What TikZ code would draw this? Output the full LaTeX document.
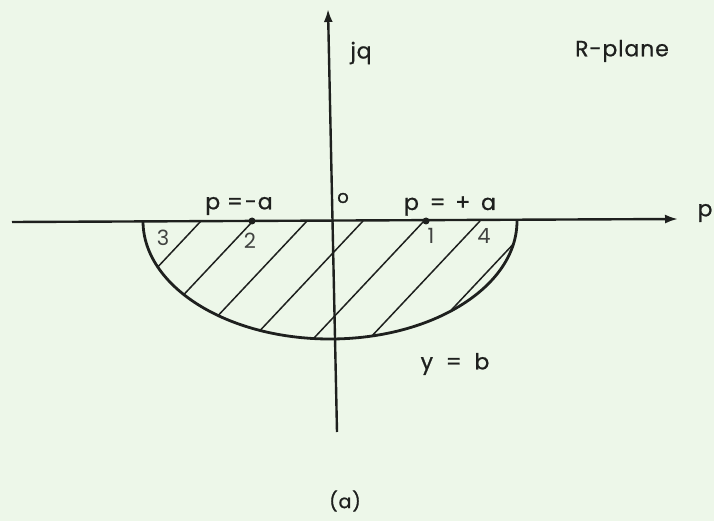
\documentclass[tikz,border=0pt]{standalone}
\usepackage{fontspec}
\setmainfont{Poppins}
\newfontfamily\lblfont{Poppins}[FakeBold=0.8, LetterSpace=4]
\newfontfamily\numfont{Poppins}[LetterSpace=0]
\usetikzlibrary{arrows.meta}
\definecolor{paper}{RGB}{237,247,233}
\definecolor{ink}{RGB}{30,32,30}
\tikzset{
  axis/.style={draw=ink, line width=2.4pt, -{Latex[length=13pt,width=9pt]}},
  rim/.style={draw=ink, line width=2.8pt},
  hatch/.style={draw=ink, line width=1.5pt},
  lbl/.style={text=ink, inner sep=0pt, font=\lblfont\fontsize{22}{22}\selectfont},
  numlbl/.style={text=ink!85, inner sep=0pt, font=\numfont\fontsize{21}{21}\selectfont},
  dotmark/.style={circle, fill=ink, inner sep=0pt, minimum size=7pt}
}
\begin{document}
\begin{tikzpicture}[x=1pt,y=1pt]
\useasboundingbox (0,0) rectangle (714,-521);
\fill[paper] (0,0) rectangle (714,-521);
% axes
\coordinate (hl) at (12,-222);
\coordinate (hr) at (678,-219);
\coordinate (vb) at (337,-432);
\coordinate (vt) at (328,-9);
\draw[axis] (hl) -- (hr);
\draw[axis] (vb) -- (vt);
% hatching clipped to the half ellipse
\coordinate (el) at (143,-221);
\begin{scope}
  \clip (el) arc[start angle=180, end angle=360, x radius=187, y radius=118] -- cycle;
  \foreach \t in {201,253,307,363,424,480,535}{
    \draw[hatch] (\t,-221) -- ({\t-0.94*140},-361);
  }
\end{scope}
\draw[rim] (el) arc[start angle=180, end angle=360, x radius=187, y radius=118];
% points
\node[dotmark] (pma) at (252,-221) {};
\node[dotmark] (ppa) at (426,-221) {};
% labels
\node[lbl] (pmal) at (239,-206) {p =\hspace{2pt}-a};
\node[lbl] (ppal) at (450,-206) {p\hspace{4pt} = \hspace{3pt}+\hspace{4pt} a};
\node[lbl, font=\lblfont\fontsize{18}{18}\selectfont] (orig) at (343,-198) {o};
\node[lbl] (jq) at (361,-53) {jq};
\node[lbl] (rpl) at (622,-51) {R-plane};
\node[lbl] (pax) at (705,-213) {p};
\node[lbl] (yb) at (455,-364) {y\hspace{6pt} =\hspace{6pt} b};
\node[lbl, font=\lblfont\fontsize{19}{19}\selectfont] (cap) at (345,-501) {(a)};
\node[numlbl] (n3) at (163,-238) {3};
\node[numlbl] (n2) at (250,-241) {2};
\node[numlbl] (n1) at (431,-236) {1};
\node[numlbl] (n4) at (484,-236) {4};
\end{tikzpicture}
\end{document}
